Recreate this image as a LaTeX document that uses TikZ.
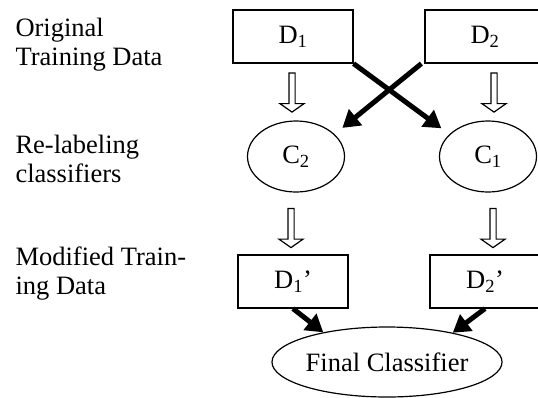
\documentclass[tikz,border=0pt]{standalone}
\usepackage{fontspec}
\setmainfont{Liberation Serif}
\usetikzlibrary{arrows.meta}
\usetikzlibrary{shapes.geometric}
\usetikzlibrary{shapes.arrows}

\begin{document}
\begin{tikzpicture}[x=1pt, y=-1pt,
      every node/.style={color=black, font=\fontsize{26.5}{29}\selectfont},
      data box/.style={draw, line width=1.2pt, minimum width=120pt, minimum height=53pt, inner sep=0pt},
      classifier/.style={draw, ellipse, line width=1.2pt, minimum width=97pt, minimum height=71pt, inner sep=0pt},
      hollow arrow/.style={draw, line width=1.2pt, single arrow, shape border rotate=270,
        minimum height=39pt, single arrow head extend=9pt,
        single arrow tip angle=110, inner sep=2.5pt},
      bold arrow/.style={line width=5pt, -{Triangle[length=17pt, width=20pt]}},
      side label/.style={anchor=base west, align=left}
      ]
      \useasboundingbox (0,0) rectangle (538,397);

      % stage names
      \node[side label] (Orig)  at (12,65)  {Original\\Training Data};
      \node[side label] (Relab) at (12,182) {Re-labeling\\classifiers};
      \node[side label] (Modif) at (12,294) {Modified Train-\\ing Data};

      % data and classifiers
      \node[data box] (D1) at (293,36.5) {D\textsubscript{1}};
      \node[data box] (D2) at (485,36.5) {D\textsubscript{2}};
      \node[classifier] (C2) at (296,156.5) {C\textsubscript{2}};
      \node[classifier] (C1) at (488,156.5) {C\textsubscript{1}};
      \node[data box, minimum width=110pt] (D1m) at (293,281.5) {D\textsubscript{1}’};
      \node[data box, minimum width=110pt] (D2m) at (485,281.5) {D\textsubscript{2}’};
      \node[classifier, minimum width=230pt, minimum height=70pt] (Final) at (387,362) {Final Classifier};

      % hollow arrows
      \node[hollow arrow] (D1C2)  at (292,91.5) {};
      \node[hollow arrow] (D2C1)  at (494,91.5) {};
      \node[hollow arrow] (C2D1m) at (291,227)  {};
      \node[hollow arrow] (C1D2m) at (493,227)  {};

      % crossing arrows
      \draw[bold arrow, shorten >=10pt] (D1.south east) -- (C1.150);
      \draw[bold arrow, shorten >=10pt] ([xshift=-3pt]D2.south west) -- (C2.30);
      \draw[bold arrow] (D1m.south) -- (Final.155);
      \draw[bold arrow] (D2m.south) -- (Final.24);
\end{tikzpicture}
\end{document}
